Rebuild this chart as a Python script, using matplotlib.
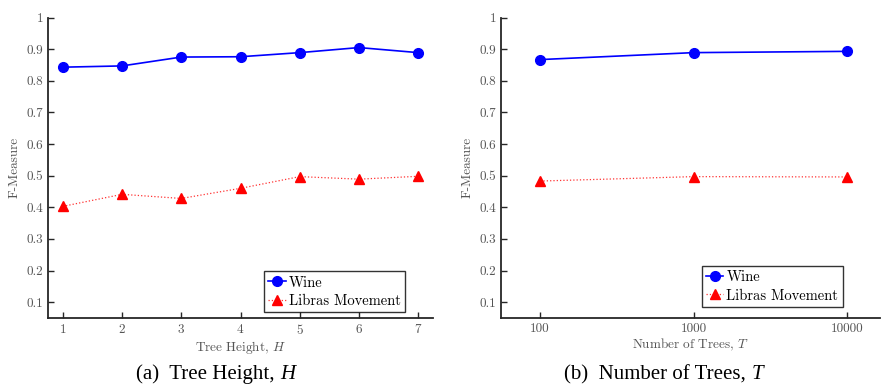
import matplotlib
matplotlib.use('Agg')
import matplotlib.pyplot as plt

plt.rcParams['font.family'] = 'cmr10'
plt.rcParams['mathtext.fontset'] = 'cm'
plt.rcParams['axes.formatter.use_mathtext'] = True

# Tree height sweep
heights = [1, 2, 3, 4, 5, 6, 7]
wine_h = [0.843, 0.847, 0.875, 0.876, 0.889, 0.905, 0.889]
libras_h = [0.403, 0.441, 0.428, 0.460, 0.497, 0.489, 0.498]

# Number of trees sweep
trees = [100, 1000, 10000]
wine_t = [0.867, 0.889, 0.893]
libras_t = [0.483, 0.497, 0.496]

yticks = [0.1, 0.2, 0.3, 0.4, 0.5, 0.6, 0.7, 0.8, 0.9, 1]
ytick_labels = ['0.1', '0.2', '0.3', '0.4', '0.5', '0.6', '0.7', '0.8', '0.9', '1']

fig = plt.figure(figsize=(8.81, 3.85), dpi=100)
ax1 = fig.add_axes([0.0545, 0.174, 0.437, 0.7805])
ax2 = fig.add_axes([0.5687, 0.174, 0.430, 0.7805])


def style(ax):
    for s in ['top', 'right']:
        ax.spines[s].set_visible(False)
    for s in ['left', 'bottom']:
        ax.spines[s].set_color('#262626')
        ax.spines[s].set_linewidth(1.3)
    ax.tick_params(direction='in', length=4, width=1, colors='#262626',
                   labelcolor='#555555', labelsize=9.5)
    ax.tick_params(which='minor', length=0)
    ax.set_ylim(0.05, 1.0)
    ax.set_yticks(yticks)
    ax.set_yticklabels(ytick_labels)
    ax.set_ylabel('F-Measure', color='#555555', fontsize=9.5, labelpad=4)


def add_legend(ax, anchor):
    leg = ax.legend(loc='lower right', bbox_to_anchor=anchor, fontsize=10.5,
                    frameon=True, fancybox=False, handlelength=1.2, handletextpad=0.2,
                    borderpad=0.3, labelspacing=0.3, borderaxespad=0.0)
    leg.get_frame().set_edgecolor('black')
    leg.get_frame().set_linewidth(1.0)


ax1.plot(heights, wine_h, color='#0000ff', lw=1.2, marker='o', ms=7, label='Wine')
ax1.plot(heights, libras_h, color='#ff3333', lw=0.9, ls=':', marker='^', ms=7.5,
         mfc='#ff0000', mec='#ff0000', label='Libras Movement')
ax1.set_xlim(0.75, 7.25)
ax1.set_xticks(heights)
style(ax1)
ax1.set_xlabel('Tree Height, $H$', color='#555555', fontsize=9.5, labelpad=1.5)
add_legend(ax1, (0.927, 0.02))

ax2.plot(trees, wine_t, color='#0000ff', lw=1.2, marker='o', ms=7, label='Wine')
ax2.plot(trees, libras_t, color='#ff3333', lw=0.9, ls=':', marker='^', ms=7.5,
         mfc='#ff0000', mec='#ff0000', label='Libras Movement')
ax2.set_xscale('log')
ax2.set_xlim(10 ** 1.745, 10 ** 4.215)
ax2.set_xticks(trees)
ax2.set_xticklabels([str(t) for t in trees])
style(ax2)
ax2.set_xlabel('Number of Trees, $T$', color='#555555', fontsize=9.5, labelpad=1.5)
add_legend(ax2, (0.902, 0.037))

fig.text(0.318, 0.027, '(a)  Tree Height, ', family='Liberation Serif', fontsize=15,
         ha='right', va='center')
fig.text(0.318, 0.027, 'H', family='Liberation Serif', style='italic', fontsize=15,
         ha='left', va='center')
fig.text(0.853, 0.027, '(b)  Number of Trees, ', family='Liberation Serif', fontsize=15,
         ha='right', va='center')
fig.text(0.853, 0.027, 'T', family='Liberation Serif', style='italic', fontsize=15,
         ha='left', va='center')

fig.savefig('out.png', dpi=100)
